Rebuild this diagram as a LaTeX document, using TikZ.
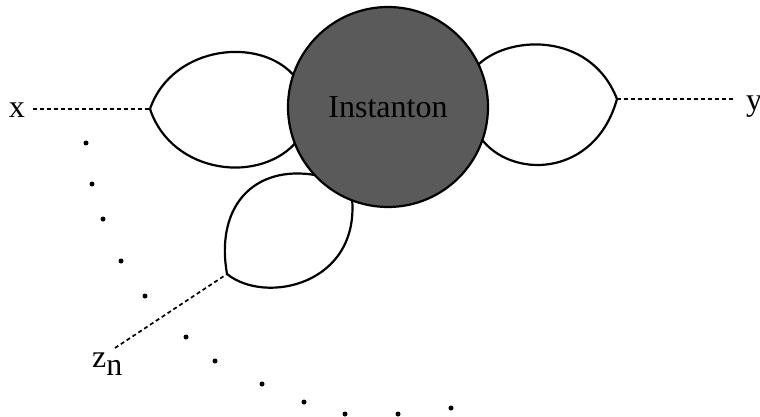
\documentclass[tikz,border=0pt]{standalone}
\usepackage{fontspec}
\setmainfont{Liberation Serif}
\usepackage{tikz}

\definecolor{instgray}{RGB}{90,90,90}

\tikzset{
    lobe/.style = {line width = 2.2pt, color = black},
    prop/.style = {dashed, dash pattern = on 4pt off 3pt, line width = 1.7pt},
    lbl/.style = {inner sep = 0pt, font = \fontsize{32}{36}\selectfont}
}

\begin{document}
\begin{tikzpicture}[x=1pt, y=-1pt]
                    \useasboundingbox (0, 0) rectangle (760, 417);
                    \def\cx{388}; \def\cy{107}; \def\r{100}

                    \node[lbl, anchor = base] (x) at (17, 118) {x};
                    \node[lbl, anchor = base west] (y) at (746, 111) {y};
                    \node[lbl, anchor = base west] (z) at (92, 367) {z\raisebox{-8pt}{n}};

                    \coordinate (xtip) at (150, 109);
                    \coordinate (ytip) at (617, 99);
                    \coordinate (ztip) at (227, 274);
                    \coordinate (xend) at (33, 109);
                    \coordinate (yend) at (733, 99);
                    \coordinate (zend) at (115, 348);

                    \draw[prop] (xend) -- (xtip);
                    \draw[prop] (ytip) -- (yend);
                    \draw[prop] (zend) -- (ztip);

                    % the three loops
                    \draw[lobe] (xtip) .. controls (172, 45) and (262, 35) .. (296, 78);
                    \draw[lobe] (xtip) .. controls (172, 175) and (262, 185) .. (298, 140);
                    \draw[lobe] (ytip) .. controls (590, 30) and (505, 35) .. (476, 67);
                    \draw[lobe] (ytip) .. controls (595, 178) and (510, 180) .. (480, 137);
                    \draw[lobe] (ztip) .. controls (215, 205) and (255, 165) .. (315, 175);
                    \draw[lobe] (ztip) .. controls (265, 305) and (360, 285) .. (352, 198);

                    \draw[line width = 2.2pt, fill = instgray] (\cx, \cy) circle (\r);
                    \node[lbl, anchor = base] (inst) at (\cx, 118) {Instanton};

                    \foreach \px/\py in {86/143, 92/184, 103/219, 121/261, 145/296, 186/337,
                                         215/361, 262/384, 304/402, 345/414, 398/414, 451/408} {
                        \fill (\px, \py) circle (2.5pt);
                    }
                \end{tikzpicture}
\end{document}
